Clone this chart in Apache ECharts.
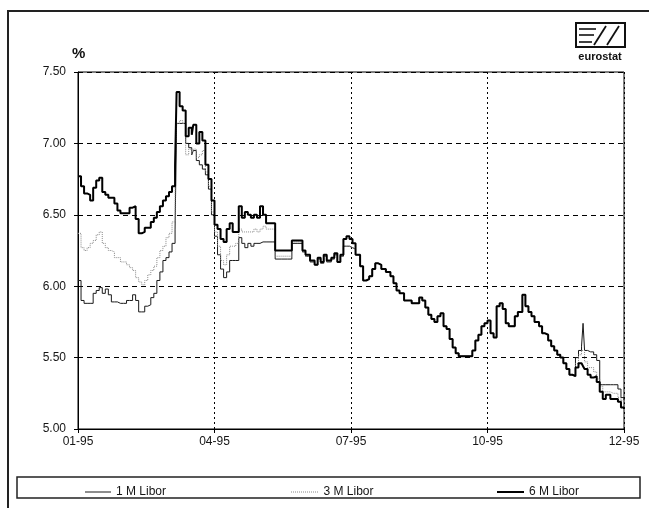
<!DOCTYPE html>
<html><head><meta charset="utf-8">
<script src="https://cdn.jsdelivr.net/npm/echarts/dist/echarts.min.js"></script>
<style>html,body{margin:0;padding:0;background:#fff}#c{width:649px;height:508px}</style>
</head><body><div id="c"></div>
<script>
// x positions are days counted from 1 Jan 1995 (a quarter ~ 90 days on the axis)
const tickDays = [0, 90, 180, 270, 360];
const tickLabels = ['01-95', '04-95', '07-95', '10-95', '12-95'];
const yTicks = [5.0, 5.5, 6.0, 6.5, 7.0, 7.5];

const seriesNames = ['1 M Libor', '3 M Libor', '6 M Libor'];

// period where the three rates diverge (Jan - Jun)
const daysEarly = [0,2,4,6,8,10,12,14,16,18,20,22,24,26,28,30,32,34,36,38,40,42,44,46,48,50,52,54,56,58,60,62,64,
  65,67,69,71,73,75,76,78,80,82,84,86,88,90,
  92,94,96,98,100,102,104,106,108,110,112,114,116,118,120,122,124,
  128,130,134,138,
  141,145,148,150,153,156,158,160,162,164,167,169,171,173,175,177,179,181];
const m1Early = [6.04,5.90,5.88,5.88,5.88,5.95,5.97,5.99,5.95,5.98,5.94,5.89,5.89,5.88,5.88,5.88,5.90,5.90,5.94,5.90,5.82,5.82,5.86,5.87,5.92,5.95,6.04,6.10,6.18,6.20,6.24,6.30,6.40,
  7.14,7.14,7.14,7.00,6.97,6.92,6.95,6.88,6.85,6.82,6.78,6.68,6.50,6.35,
  6.22,6.12,6.06,6.10,6.18,6.18,6.18,6.34,6.30,6.27,6.30,6.28,6.30,6.30,6.31,6.31,6.31,
  6.31,6.19,6.19,6.19,
  6.30,6.30,6.24,6.21,6.17,6.15,6.19,6.16,6.21,6.17,6.19,6.22,6.17,6.21,6.28,6.28,6.27,6.26];
const m3Early = [6.37,6.27,6.25,6.27,6.30,6.32,6.36,6.38,6.30,6.27,6.25,6.24,6.20,6.20,6.17,6.17,6.15,6.13,6.11,6.06,6.03,6.01,6.04,6.08,6.11,6.14,6.20,6.25,6.28,6.34,6.37,6.45,6.70,
  7.14,7.16,7.14,6.92,6.96,6.93,6.96,6.90,6.92,6.95,6.80,6.70,6.52,6.38,
  6.28,6.18,6.15,6.22,6.28,6.28,6.30,6.40,6.38,6.38,6.38,6.38,6.40,6.38,6.40,6.42,6.40,
  6.40,6.21,6.21,6.21,
  6.31,6.31,6.24,6.21,6.17,6.15,6.19,6.16,6.21,6.17,6.19,6.22,6.17,6.21,6.28,6.28,6.27,6.26];
const m6Early = [6.77,6.70,6.65,6.64,6.60,6.69,6.74,6.76,6.66,6.64,6.62,6.62,6.58,6.53,6.51,6.51,6.51,6.55,6.56,6.47,6.37,6.38,6.41,6.41,6.45,6.48,6.52,6.56,6.60,6.63,6.66,6.70,6.85,
  7.36,7.26,7.23,7.05,7.11,7.06,7.13,7.00,7.08,7.02,6.85,6.75,6.60,6.43,
  6.40,6.33,6.31,6.40,6.44,6.38,6.38,6.56,6.48,6.52,6.50,6.48,6.50,6.48,6.56,6.50,6.44,
  6.44,6.25,6.25,6.25,
  6.32,6.32,6.25,6.22,6.18,6.15,6.20,6.17,6.22,6.18,6.20,6.23,6.17,6.22,6.33,6.35,6.33,6.30];

// period where the three rates coincide (Jul - Nov)
const daysCommon = [183,186,188,190,192,194,196,198,200,203,206,208,210,212,215,218,220,223,225,227,229,231,233,235,237,239,241,243,245,247,249,251,253,256,258,260,262,264,266,268,270,272,
  274,276,278,280,282,284,286,288,290,293,295,297,299,301,304,306,308,310,312,314,316,318,320,322,324,326];
const common = [6.22,6.14,6.04,6.05,6.07,6.12,6.16,6.15,6.12,6.10,6.07,6.02,5.97,5.95,5.90,5.90,5.88,5.88,5.92,5.90,5.85,5.80,5.77,5.75,5.79,5.81,5.72,5.70,5.63,5.57,5.53,5.51,5.51,5.51,5.51,5.55,5.62,5.66,5.72,5.74,5.76,5.67,
  5.64,5.86,5.88,5.84,5.74,5.72,5.72,5.79,5.82,5.94,5.86,5.82,5.79,5.75,5.72,5.67,5.66,5.62,5.58,5.55,5.52,5.50,5.46,5.42,5.38,5.37];

// December, rates diverge again
const daysLate = [328,330,332,333,334,336,338,340,342,344,346,348,351,353,356,358,360];
const m1Late = [5.50,5.55,5.58,5.74,5.55,5.54,5.54,5.52,5.48,5.31,5.31,5.31,5.31,5.31,5.28,5.22,5.20];
const m3Late = [5.46,5.52,5.55,5.55,5.47,5.43,5.43,5.40,5.35,5.30,5.26,5.26,5.25,5.25,5.22,5.20,5.18];
const m6Late = [5.43,5.46,5.45,5.44,5.42,5.38,5.36,5.37,5.33,5.26,5.21,5.24,5.21,5.21,5.19,5.15,5.14];

const days = daysEarly.concat(daysCommon, daysLate);
const m1 = m1Early.concat(common, m1Late);
const m3 = m3Early.concat(common, m3Late);
const m6 = m6Early.concat(common, m6Late);
const pairs = vals => days.map((d, i) => [d, vals[i]]);

const FONT = '"Liberation Sans", Arial, sans-serif';
const TXT = '#151515';

// dotted legend icon: small squares spaced along a line
let dotPath = 'path://';
for (let i = 0; i < 14; i++) dotPath += 'M' + (i * 2) + ',0h1v1h-1z';

const legendText = {color: TXT, fontSize: 12, fontFamily: FONT};

const chart = echarts.init(document.getElementById('c'), null, {renderer: 'canvas'});
chart.setOption({
  backgroundColor: '#fff',
  animation: false,
  grid: {left: 78, right: 25, top: 72, bottom: 79, show: true, borderColor: '#000', borderWidth: 1,
         backgroundColor: 'transparent', containLabel: false, outerBoundsMode: 'none'},
  xAxis: {
    type: 'value', min: tickDays[0], max: tickDays[tickDays.length - 1], interval: 90,
    axisLine: {show: true, lineStyle: {color: '#000', width: 1}},
    axisTick: {show: true, length: 4, inside: false, lineStyle: {color: '#000'}},
    axisLabel: {formatter: v => { const i = tickDays.indexOf(v); return i >= 0 ? tickLabels[i] : ''; },
      color: TXT, fontSize: 12, fontFamily: FONT, margin: 7, showMinLabel: true, showMaxLabel: true},
    splitLine: {show: true, lineStyle: {color: '#000', width: 1, type: [2, 3]}}
  },
  yAxis: {
    type: 'value', min: yTicks[0], max: yTicks[yTicks.length - 1], interval: 0.5,
    axisLine: {show: true, lineStyle: {color: '#000', width: 1}},
    axisTick: {show: true, length: 4, inside: false, lineStyle: {color: '#000'}},
    axisLabel: {formatter: v => v.toFixed(2), color: TXT, fontSize: 12, fontFamily: FONT, margin: 12},
    splitLine: {show: true, lineStyle: {color: '#000', width: 1, type: [5, 4]}}
  },
  legend: [
    {data: [{name: seriesNames[0], icon: 'rect', itemStyle: {color: '#1a1a1a', borderWidth: 0}}],
     left: 80, top: 481, itemWidth: 26, itemHeight: 1, selectedMode: false, textStyle: legendText},
    {data: [{name: seriesNames[1], icon: dotPath, itemStyle: {color: '#8a8a8a', borderWidth: 0}}],
     left: 286, top: 481, itemWidth: 28, itemHeight: 1, selectedMode: false, textStyle: legendText},
    {data: [{name: seriesNames[2], icon: 'rect', itemStyle: {color: '#000', borderWidth: 0}}],
     left: 492, top: 481, itemWidth: 27, itemHeight: 2, selectedMode: false, textStyle: legendText}
  ],
  series: [
    {name: seriesNames[0], type: 'line', step: 'end', symbol: 'none', data: pairs(m1),
     lineStyle: {color: '#1a1a1a', width: 1}, itemStyle: {color: '#1a1a1a'}},
    {name: seriesNames[1], type: 'line', step: 'end', symbol: 'none', data: pairs(m3),
     lineStyle: {color: '#8a8a8a', width: 1, type: [1, 1]}, itemStyle: {color: '#8a8a8a'}},
    {name: seriesNames[2], type: 'line', step: 'end', symbol: 'none', data: pairs(m6),
     lineStyle: {color: '#000', width: 2}, itemStyle: {color: '#000'}}
  ],
  graphic: [
    {type: 'rect', silent: true, shape: {x: 8, y: 11, width: 660, height: 520},
     style: {fill: 'none', stroke: '#222', lineWidth: 2}},
    {type: 'rect', silent: true, shape: {x: 17, y: 477, width: 623, height: 21},
     style: {fill: 'none', stroke: '#222', lineWidth: 1.5}},
    {type: 'text', silent: true, style: {text: '%', x: 72, y: 46, font: 'bold 15px ' + FONT, fill: '#111'}},
    // eurostat logo
    {type: 'rect', silent: true, shape: {x: 576, y: 23, width: 49, height: 24},
     style: {fill: '#fff', stroke: '#111', lineWidth: 2}},
    {type: 'line', silent: true, shape: {x1: 579, y1: 29, x2: 596, y2: 29}, style: {stroke: '#111', lineWidth: 1.6}},
    {type: 'line', silent: true, shape: {x1: 579, y1: 35, x2: 594, y2: 35}, style: {stroke: '#111', lineWidth: 1.6}},
    {type: 'line', silent: true, shape: {x1: 579, y1: 42, x2: 592, y2: 42}, style: {stroke: '#111', lineWidth: 1.6}},
    {type: 'line', silent: true, shape: {x1: 594, y1: 45, x2: 606, y2: 26}, style: {stroke: '#111', lineWidth: 1.8}},
    {type: 'line', silent: true, shape: {x1: 607, y1: 45, x2: 619, y2: 26}, style: {stroke: '#111', lineWidth: 1.8}},
    {type: 'text', silent: true, style: {text: 'eurostat', x: 600, y: 51, align: 'center', font: 'bold 11px ' + FONT, fill: '#111'}}
  ]
});
</script></body></html>
